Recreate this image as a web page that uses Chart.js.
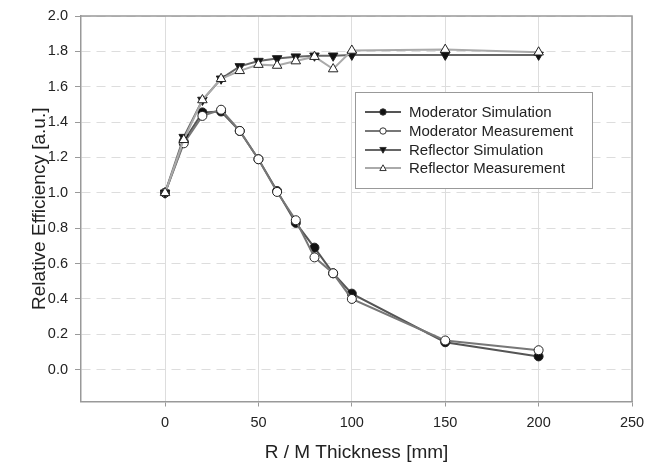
<!DOCTYPE html>
<html>
<head>
<meta charset="utf-8">
<script src="https://cdn.jsdelivr.net/npm/chart.js@4.4.1/dist/chart.umd.min.js"></script>
<style>
  html, body { margin: 0; padding: 0; background: #fff; }
  #wrap { width: 656px; height: 469px; }
</style>
</head>
<body>
<div id="wrap"><canvas id="chart" width="656" height="469"></canvas></div>
<script>
// data
const thickness = [0, 10, 20, 30, 40, 50, 60, 70, 80, 90, 100, 150, 200];
const moderatorSim  = [1.00, 1.29, 1.455, 1.46, 1.35, 1.19, 1.01, 0.83, 0.69, 0.545, 0.43, 0.155, 0.075];
const moderatorMeas = [1.00, 1.28, 1.435, 1.47, 1.35, 1.19, 1.005, 0.845, 0.635, 0.545, 0.40, 0.165, 0.11];
const reflectorSim  = [1.00, 1.315, 1.525, 1.645, 1.715, 1.745, 1.76, 1.77, 1.775, 1.775, 1.78, 1.78, 1.78];
const reflectorMeas = [1.00, 1.30, 1.525, 1.645, 1.69, 1.725, 1.72, 1.745, 1.77, 1.70, 1.805, 1.81, 1.795];
const seriesNames = ["Moderator Simulation", "Moderator Measurement", "Reflector Simulation", "Reflector Measurement"];
const xTicks = [0, 50, 100, 150, 200, 250];
const yTicks = [0.0, 0.2, 0.4, 0.6, 0.8, 1.0, 1.2, 1.4, 1.6, 1.8, 2.0];

const FONT = "'Liberation Sans', Arial, sans-serif";
const AXIS = "#999";

function pts(ys) {
  return thickness.map((x, i) => ({ x: x, y: ys[i] }));
}

// style per series: line colour, marker shape, fill
const styles = [
  { line: "#555", shape: "circle", fill: "#111", rot: 0, r: 4.5 },
  { line: "#777", shape: "circle", fill: "#fff", rot: 0, r: 4.5 },
  { line: "#666", shape: "triangle", fill: "#111", rot: 180, r: 5.5 },
  { line: "#aaa", shape: "triangle", fill: "#fff", rot: 0, r: 5.5 }
];
const values = [moderatorSim, moderatorMeas, reflectorSim, reflectorMeas];

const datasets = values.map((v, i) => ({
  label: seriesNames[i],
  data: pts(v),
  showLine: true,
  borderColor: styles[i].line,
  borderWidth: 2,
  pointStyle: styles[i].shape,
  pointRotation: styles[i].rot,
  pointRadius: styles[i].r,
  pointBackgroundColor: styles[i].fill,
  pointBorderColor: "#222",
  pointBorderWidth: 1,
  order: [3, 2, 1, 0][i]
}));

function drawMarker(ctx, st, x, y, r) {
  ctx.beginPath();
  if (st.shape === "circle") {
    ctx.arc(x, y, r, 0, Math.PI * 2);
  } else if (st.rot === 180) {
    ctx.moveTo(x - r, y - r * 0.8);
    ctx.lineTo(x + r, y - r * 0.8);
    ctx.lineTo(x, y + r);
  } else {
    ctx.moveTo(x - r, y + r * 0.8);
    ctx.lineTo(x + r, y + r * 0.8);
    ctx.lineTo(x, y - r);
  }
  ctx.closePath();
  ctx.fillStyle = st.fill;
  ctx.fill();
  ctx.strokeStyle = "#333";
  ctx.lineWidth = 1;
  ctx.stroke();
}

const framePlugin = {
  id: "frame",
  beforeDatasetsDraw(chart) {
    const a = chart.chartArea, ctx = chart.ctx;
    ctx.save();
    ctx.strokeStyle = AXIS;
    ctx.lineWidth = 1.5;
    ctx.beginPath();
    ctx.moveTo(a.left, a.top);
    ctx.lineTo(a.right, a.top);
    ctx.lineTo(a.right, a.bottom);
    ctx.stroke();
    ctx.restore();
  },
  afterDraw(chart) {
    // legend box inside the plot
    const ctx = chart.ctx;
    const bx = 355, by = 92, bw = 237, bh = 96;
    const rows = [112, 131, 150, 168];
    ctx.save();
    ctx.fillStyle = "#fff";
    ctx.fillRect(bx, by, bw, bh);
    ctx.strokeStyle = "#999";
    ctx.lineWidth = 1;
    ctx.strokeRect(bx + 0.5, by + 0.5, bw, bh);
    ctx.font = "15px " + FONT;
    ctx.textBaseline = "middle";
    ctx.textAlign = "left";
    rows.forEach((ry, i) => {
      ctx.strokeStyle = styles[i].line;
      ctx.lineWidth = 2;
      ctx.beginPath();
      ctx.moveTo(365, ry);
      ctx.lineTo(401, ry);
      ctx.stroke();
      drawMarker(ctx, styles[i], 383, ry, 3.2);
      ctx.fillStyle = "#222";
      ctx.fillText(seriesNames[i], 409, ry + 1);
    });
    ctx.restore();
  }
};

new Chart(document.getElementById("chart"), {
  type: "scatter",
  data: { datasets: datasets },
  options: {
    responsive: false,
    animation: false,
    layout: { padding: { top: 16, right: 24, left: 0, bottom: 0 } },
    plugins: { legend: { display: false }, tooltip: { enabled: false } },
    scales: {
      x: {
        type: "linear",
        min: -45,
        max: 250,
        afterBuildTicks: (axis) => { axis.ticks = xTicks.map(v => ({ value: v })); },
        afterFit: (axis) => { axis.height = 67.5; },
        grid: { color: "#ddd", lineWidth: 1, tickColor: AXIS, tickLength: 5, drawTicks: true },
        border: { color: AXIS, width: 1.5 },
        ticks: { color: "#222", padding: 8, font: { family: FONT, size: 14.5 }, maxRotation: 0 },
        title: {
          display: true,
          text: "R / M Thickness [mm]",
          color: "#222",
          font: { family: FONT, size: 19 },
          padding: { top: 0, bottom: 5 }
        }
      },
      y: {
        type: "linear",
        min: -0.18,
        max: 2.0,
        afterBuildTicks: (axis) => { axis.ticks = yTicks.map(v => ({ value: v })); },
        afterFit: (axis) => { axis.width = 81; },
        grid: { color: "#ddd", lineWidth: 1, tickColor: AXIS, tickLength: 6, drawTicks: true },
        border: { color: AXIS, width: 1.5, dash: [9, 6] },
        ticks: {
          color: "#222",
          padding: 7,
          font: { family: FONT, size: 14.5 },
          callback: (v) => v.toFixed(1)
        },
        title: {
          display: true,
          text: "Relative Efficiency [a.u.]",
          color: "#222",
          font: { family: FONT, size: 19 },
          padding: { top: 28, bottom: 0 }
        }
      }
    }
  },
  plugins: [framePlugin]
});
</script>
</body>
</html>
